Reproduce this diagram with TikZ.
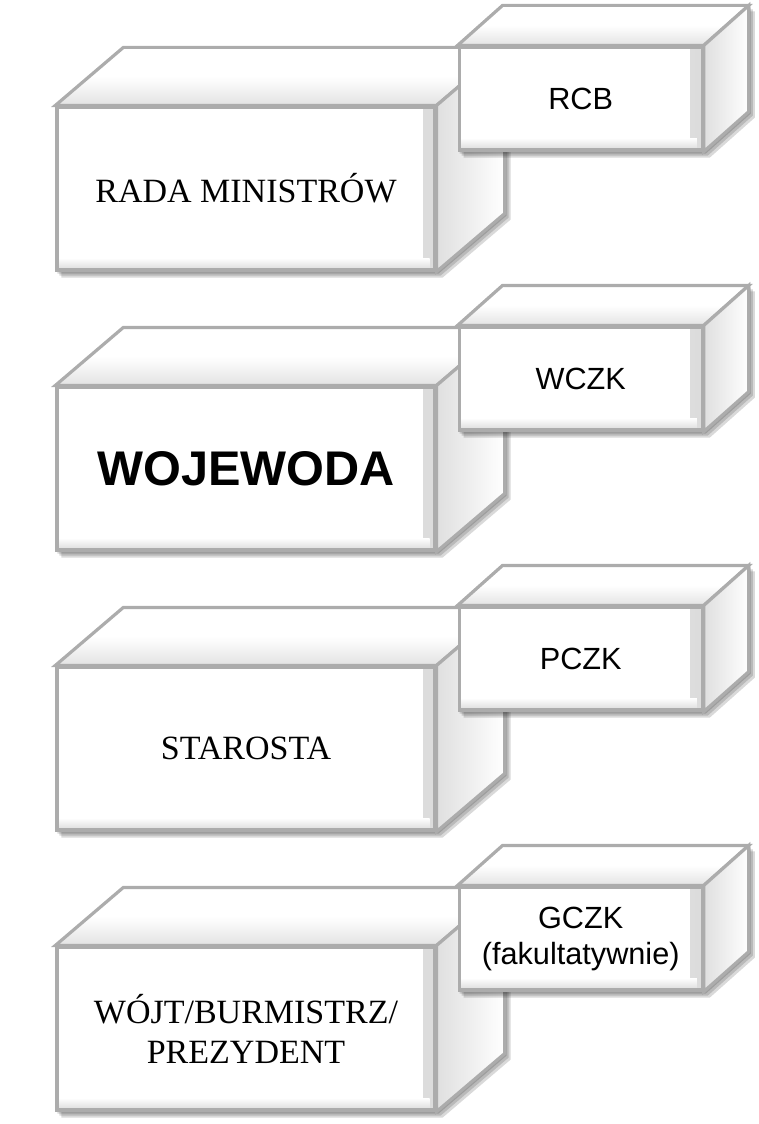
\documentclass[tikz,border=0pt]{standalone}
\usepackage{fontspec}
\setmainfont{Liberation Serif}
\setsansfont{Liberation Sans}
\usetikzlibrary{calc,positioning}
\pgfdeclarelayer{back}
\pgfdeclarelayer{mid}
\pgfsetlayers{back,mid,main}
\definecolor{boxline}{RGB}{172,172,172}
\newcommand{\bigfont}{\fontsize{25.5}{30}\selectfont}
\newcommand{\smallfont}{\sffamily\fontsize{23}{27}\selectfont}
\newcommand{\wojfont}{\sffamily\bfseries\fontsize{36.5}{40}\selectfont}
\newcommand{\cuboid}[4]{%
  \begin{pgfonlayer}{#4}
    \foreach \s in {1.5pt,3pt,4.5pt}
      \fill[black, opacity=.15, transform canvas={shift={(\s,-\s)}}]
        (#1.north west) -- ++(#2,#3) -- ($(#1.north east)+(#2,#3)$) -- ($(#1.south east)+(#2,#3)$)
        -- (#1.south east) -- (#1.south west) -- cycle;
    \path[topface] (#1.north west) -- ++(#2,#3) -- ($(#1.north east)+(#2,#3)$) -- (#1.north east) -- cycle;
    \path[sideface] (#1.north east) -- ++(#2,#3) -- ($(#1.south east)+(#2,#3)$) -- (#1.south east) -- cycle;
  \end{pgfonlayer}}

\begin{document}
\begin{tikzpicture}[
    x=0.75pt, y=-0.75pt,
    node distance=210pt,
    front/.style={rectangle, draw=boxline, line width=2.4pt, fill=white, inner sep=0pt, align=center,
      path picture={
        \shade[left color=white, right color=gray!28] ([xshift=-9pt]path picture bounding box.north east) rectangle (path picture bounding box.south east);
        \shade[top color=white, bottom color=gray!28] ([yshift=9pt]path picture bounding box.south west) rectangle ([xshift=-4pt]path picture bounding box.south east);
      }},
    bigbox/.style={front, minimum width=283.5pt, minimum height=122.25pt, font=\bigfont},
    smallbox/.style={front, minimum width=182.25pt, minimum height=77.25pt, font=\smallfont},
    topface/.style={draw=boxline, line width=2.4pt, line join=miter, top color=white, bottom color=gray!22, middle color=white},
    sideface/.style={draw=boxline, line width=2.4pt, line join=miter, left color=gray!25, right color=white}
]
    \useasboundingbox (0,0) rectangle (758,1124);

    \node (rada) [bigbox] at (246,188.5) {RADA MINISTRÓW};
    \node (wojewoda) [bigbox, below of=rada, font=\wojfont] {WOJEWODA};
    \node (starosta) [bigbox, below of=wojewoda] {STAROSTA};
    \node (wojt) [bigbox, below of=starosta] {WÓJT/BURMISTRZ/\\PREZYDENT};

    \node (rcb) [smallbox, anchor=north west] at ($(rada.north east)+(21,-60)$) {RCB};
    \node (wczk) [smallbox, anchor=north west] at ($(wojewoda.north east)+(21,-60)$) {WCZK};
    \node (pczk) [smallbox, anchor=north west] at ($(starosta.north east)+(21,-60)$) {PCZK};
    \node (gczk) [smallbox, anchor=north west] at ($(wojt.north east)+(21,-60)$) {GCZK\\(fakultatywnie)};

    \cuboid{rada}{68}{-58}{back}
    \cuboid{wojewoda}{68}{-58}{back}
    \cuboid{starosta}{68}{-58}{back}
    \cuboid{wojt}{68}{-58}{back}
    \cuboid{rcb}{45}{-40}{mid}
    \cuboid{wczk}{45}{-40}{mid}
    \cuboid{pczk}{45}{-40}{mid}
    \cuboid{gczk}{45}{-40}{mid}
\end{tikzpicture}
\end{document}
